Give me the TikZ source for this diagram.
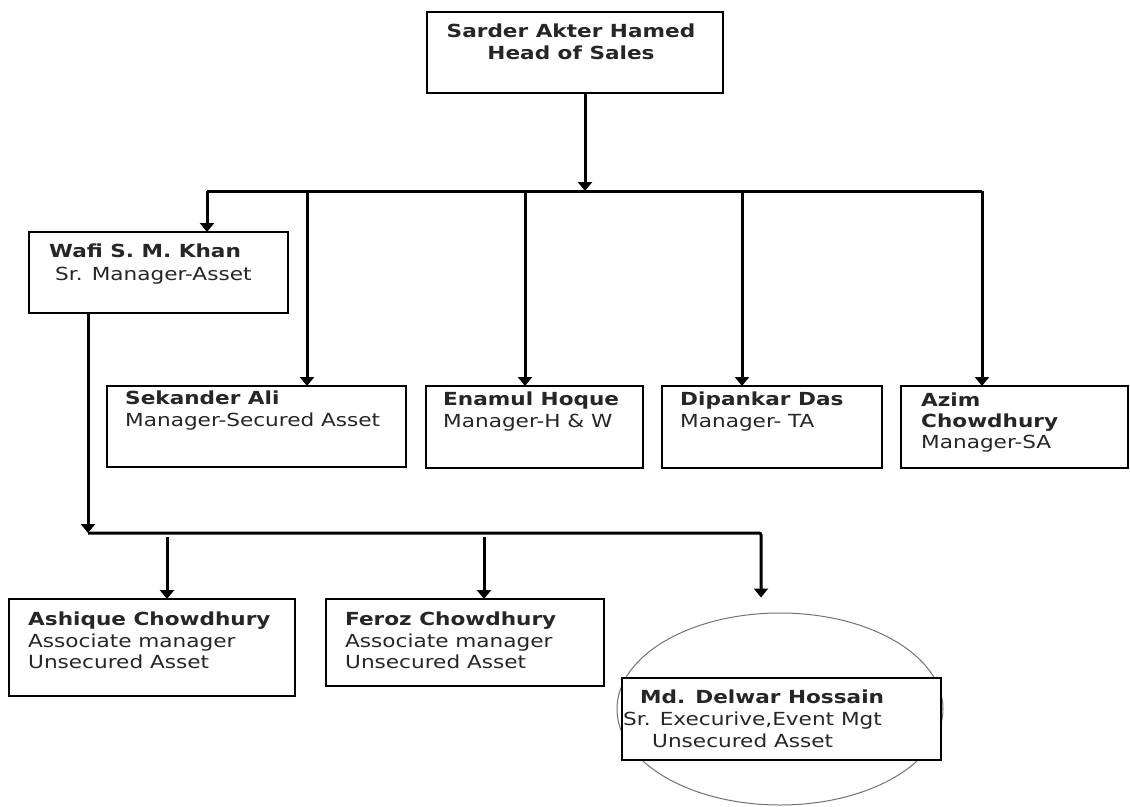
\documentclass[tikz,border=0pt]{standalone}
\usepackage{fontspec}
\setmainfont{DejaVu Sans}[FakeStretch=1.2]
\usetikzlibrary{arrows.meta,shapes.geometric}
\begin{document}
\begin{tikzpicture}[x=1pt,y=-1pt,
  box/.style={draw=black, line width=1.5pt, fill=white, inner sep=0pt, outer sep=0pt, anchor=north west},
  tx/.style={inner sep=0pt, align=left, anchor=north west, font=\fontsize{18}{22}\selectfont, text=black!85},
  conn/.style={line width=3pt, draw=black, rounded corners=2pt},
  arr/.style={-{Triangle[width=14pt,length=9pt]}}]
\useasboundingbox (0,0) rectangle (1130,806);
\fill[white] (0,0) rectangle (1130,806);

% ellipse behind Delwar box
\node[ellipse, draw=black!55, line width=1pt, minimum width=326pt, minimum height=192pt, inner sep=0pt] (delell) at (780,709) {};

% boxes
\node[box, minimum width=296pt, minimum height=81pt] (head) at (427,12) {};
\node[box, minimum width=259pt, minimum height=81pt] (wafi) at (29,232) {};
\node[box, minimum width=299pt, minimum height=81pt] (sek) at (107,386) {};
\node[box, minimum width=217pt, minimum height=82pt] (ena) at (426,386) {};
\node[box, minimum width=220pt, minimum height=82pt] (dip) at (662,386) {};
\node[box, minimum width=227pt, minimum height=82pt] (azim) at (901,386) {};
\node[box, minimum width=286pt, minimum height=97pt] (ash) at (9,599) {};
\node[box, minimum width=278pt, minimum height=87pt] (fer) at (326,599) {};
\node[box, minimum width=319pt, minimum height=82pt] (del) at (622,678) {};

% texts
\node[tx, align=center, anchor=north] (headT) at (571,24) {\textbf{Sarder Akter Hamed}\\\textbf{Head of Sales}};
\node[tx, font=\fontsize{18}{23}\selectfont] (wafiT) at (49,243.6) {\textbf{Wafi S. M. Khan}\\\hspace*{6pt}Sr. Manager-Asset};
\node[tx] (sekT) at (125,391) {\textbf{Sekander Ali}\\Manager-Secured Asset};
\node[tx] (enaT) at (443,392) {\textbf{Enamul Hoque}\\Manager-H \& W};
\node[tx] (dipT) at (680,392) {\textbf{Dipankar Das}\\Manager- TA};
\node[tx, font=\fontsize{18}{21}\selectfont] (azimT) at (921,393) {\textbf{Azim}\\\textbf{Chowdhury}\\Manager-SA};
\node[tx, font=\fontsize{18}{21.5}\selectfont] (ashT) at (28,612) {\textbf{Ashique Chowdhury}\\Associate manager\\Unsecured Asset};
\node[tx, font=\fontsize{18}{21.5}\selectfont] (ferT) at (345,612) {\textbf{Feroz Chowdhury}\\Associate manager\\Unsecured Asset};
\node[tx] (delT) at (623,690) {\hspace*{17pt}\textbf{Md. Delwar Hossain}\\Sr. Execurive,Event Mgt\\\hspace*{29pt}Unsecured Asset};

% coordinates for buses
\coordinate (b1L) at (207,191);
\coordinate (b1R) at (982,191);
\coordinate (hx) at (585,191);
\coordinate (sx) at (307,191);
\coordinate (ex) at (525,191);
\coordinate (dx) at (742,191);
\coordinate (w2) at (88,533);
\coordinate (b2R) at (761,533);
\coordinate (ax) at (167,537);
\coordinate (fx) at (484,537);

% connectors
\draw[conn, arr] (hx |- head.south) -- (hx);
\draw[conn] (b1L) -- (b1R);
\draw[conn, arr] (b1L) -- (b1L |- wafi.north);
\draw[conn, arr] (sx) -- (sx |- sek.north);
\draw[conn, arr] (ex) -- (ex |- ena.north);
\draw[conn, arr] (dx) -- (dx |- dip.north);
\draw[conn, arr] (b1R) -- (b1R |- azim.north);
\draw[conn, arr] (w2 |- wafi.south) -- (w2);
\draw[conn, arr, shorten >=15pt] (w2) -- (b2R) -- (b2R |- delell.north);
\draw[conn, arr] (ax) -- (ax |- ash.north);
\draw[conn, arr] (fx) -- (fx |- fer.north);
\end{tikzpicture}
\end{document}
